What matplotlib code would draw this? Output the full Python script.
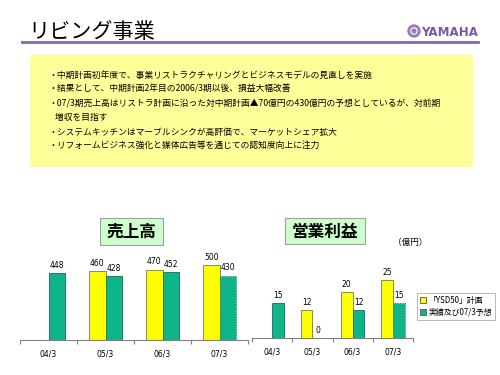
import matplotlib
matplotlib.use("Agg")
import matplotlib.pyplot as plt
from matplotlib.patches import Rectangle, Circle, Patch
import numpy as np

plt.rcParams['font.family'] = ['Noto Sans CJK JP', 'DejaVu Sans']

# ---- data ----
categories = ["04/3", "05/3", "06/3", "07/3"]
sales_plan = [None, 460, 470, 500]
sales_actual = [448, 428, 452, 430]
profit_plan = [None, 12, 20, 25]
profit_actual = [15, 0, 12, 15]
legend_labels = ["「YSD50」計画", "実績及び07/3予想"]
title = "リビング事業"
bullets = [
    "・中期計画初年度で、事業リストラクチャリングとビジネスモデルの見直しを実施",
    "・結果として、中期計画2年目の2006/3期以後、損益大幅改善",
    "・07/3期売上高はリストラ計画に沿った対中期計画▲70億円の430億円の予想としているが、対前期",
    "   増収を目指す",
    "・システムキッチンはマーブルシンクが高評価で、マーケットシェア拡大",
    "・リフォームビジネス強化と媒体広告等を通じての認知度向上に注力",
]

W, H = 500, 375
fig = plt.figure(figsize=(5, 3.75), dpi=100)
fig.patch.set_facecolor("white")

def px(x, y):
    return x / W, 1 - y / H

ov = fig.add_axes([0, 0, 1, 1])
ov.set_xlim(0, W)
ov.set_ylim(H, 0)
ov.axis("off")
ov.set_zorder(0)

purple = "#8466a8"
ov.text(28, 38.5, title, fontsize=15.2, ha="left", va="baseline", color="black")
ov.plot([22, 478], [41.5, 41.5], color=purple, lw=2)
ov.add_patch(Circle((414, 31), 6, color="#9a7cc0"))
ov.add_patch(Circle((414, 31), 3.2, fill=False, ec="white", lw=0.8))
ov.text(421, 36.5, "YAMAHA", fontsize=8.6, fontweight="bold", color="#7a58a4",
        ha="left", va="baseline", family="DejaVu Sans")

ov.add_patch(Rectangle((30, 55), 443, 112, fc="#ffff99", ec="none"))
ys = [75, 89, 103, 117, 132, 145]
for y, t in zip(ys, bullets):
    ov.text(49, y, t, fontsize=6.3, ha="left", va="center", color="black")

ov.add_patch(Rectangle((100, 218), 63, 27, fc="#ccffcc", ec="#a0a0a0", lw=0.8))
ov.text(131.5, 232, "売上高", fontsize=12, ha="center", va="center", fontweight="bold")
ov.add_patch(Rectangle((285, 218), 80, 26, fc="#ccffcc", ec="#a0a0a0", lw=0.8))
ov.text(325, 231.5, "営業利益", fontsize=12, ha="center", va="center", fontweight="bold")
ov.text(410, 242, "（億円）", fontsize=6.2, ha="center", va="center")

yellow = "#ffff00"
green = "#10b48a"
edge_y = "#888866"
edge_g = "#2a7a62"

def bar_chart(x0, x1, base_y, top_y, ymax, plan, actual, fs=5.5):
    l, b = px(x0, base_y)
    w = (x1 - x0) / W
    h = (base_y - top_y) / H
    ax = fig.add_axes([l, b, w, h])
    ax.set_zorder(1)
    ax.patch.set_alpha(0)
    x = np.arange(len(categories))
    bw = 0.29
    for i in x:
        if plan[i] is not None:
            ax.bar(i - bw / 2, plan[i], bw, color=yellow, edgecolor=edge_y, lw=0.7)
            ax.text(i - bw / 2, plan[i] + ymax * 0.035, str(plan[i]), ha="center",
                    va="bottom", fontsize=fs, family="DejaVu Sans")
        ls = ":" if i == len(categories) - 1 else "-"
        ax.bar(i + bw / 2, actual[i], bw, color=green, edgecolor=edge_g, lw=0.7, linestyle=ls)
        ax.text(i + bw / 2, actual[i] + ymax * 0.035, str(actual[i]), ha="center",
                va="bottom", fontsize=fs, family="DejaVu Sans")
    ax.set_xlim(-0.5, len(categories) - 0.5)
    ax.set_ylim(0, ymax)
    for s in ["top", "right", "left"]:
        ax.spines[s].set_visible(False)
    ax.spines["bottom"].set_color("#808080")
    ax.spines["bottom"].set_linewidth(0.8)
    ax.set_yticks([])
    ax.set_xticks(x)
    ax.set_xticklabels(categories, fontsize=fs, family="DejaVu Sans")
    ax.tick_params(axis="x", which="major", length=0, pad=7)
    ax.set_xticks(np.arange(-0.5, len(categories)), minor=True)
    ax.tick_params(axis="x", which="minor", length=3, color="#808080", width=0.8)
    return ax

bar_chart(20, 248, 340, 250, 600, sales_plan, sales_actual)
bar_chart(252, 413, 338, 257, 35, profit_plan, profit_actual)

handles = [Patch(fc=yellow, ec="#555555", lw=0.6), Patch(fc=green, ec="#555555", lw=0.6)]
leg = fig.legend(handles, legend_labels, loc="center left",
                 bbox_to_anchor=(417 / W, 1 - 306.5 / H), fontsize=5.7,
                 frameon=True, fancybox=False, handlelength=0.8, handleheight=0.8,
                 handletextpad=0.3, borderpad=0.35, labelspacing=0.35, borderaxespad=0)
leg.get_frame().set_edgecolor("#999999")
leg.get_frame().set_linewidth(0.6)

fig.savefig("out.png", dpi=100)
